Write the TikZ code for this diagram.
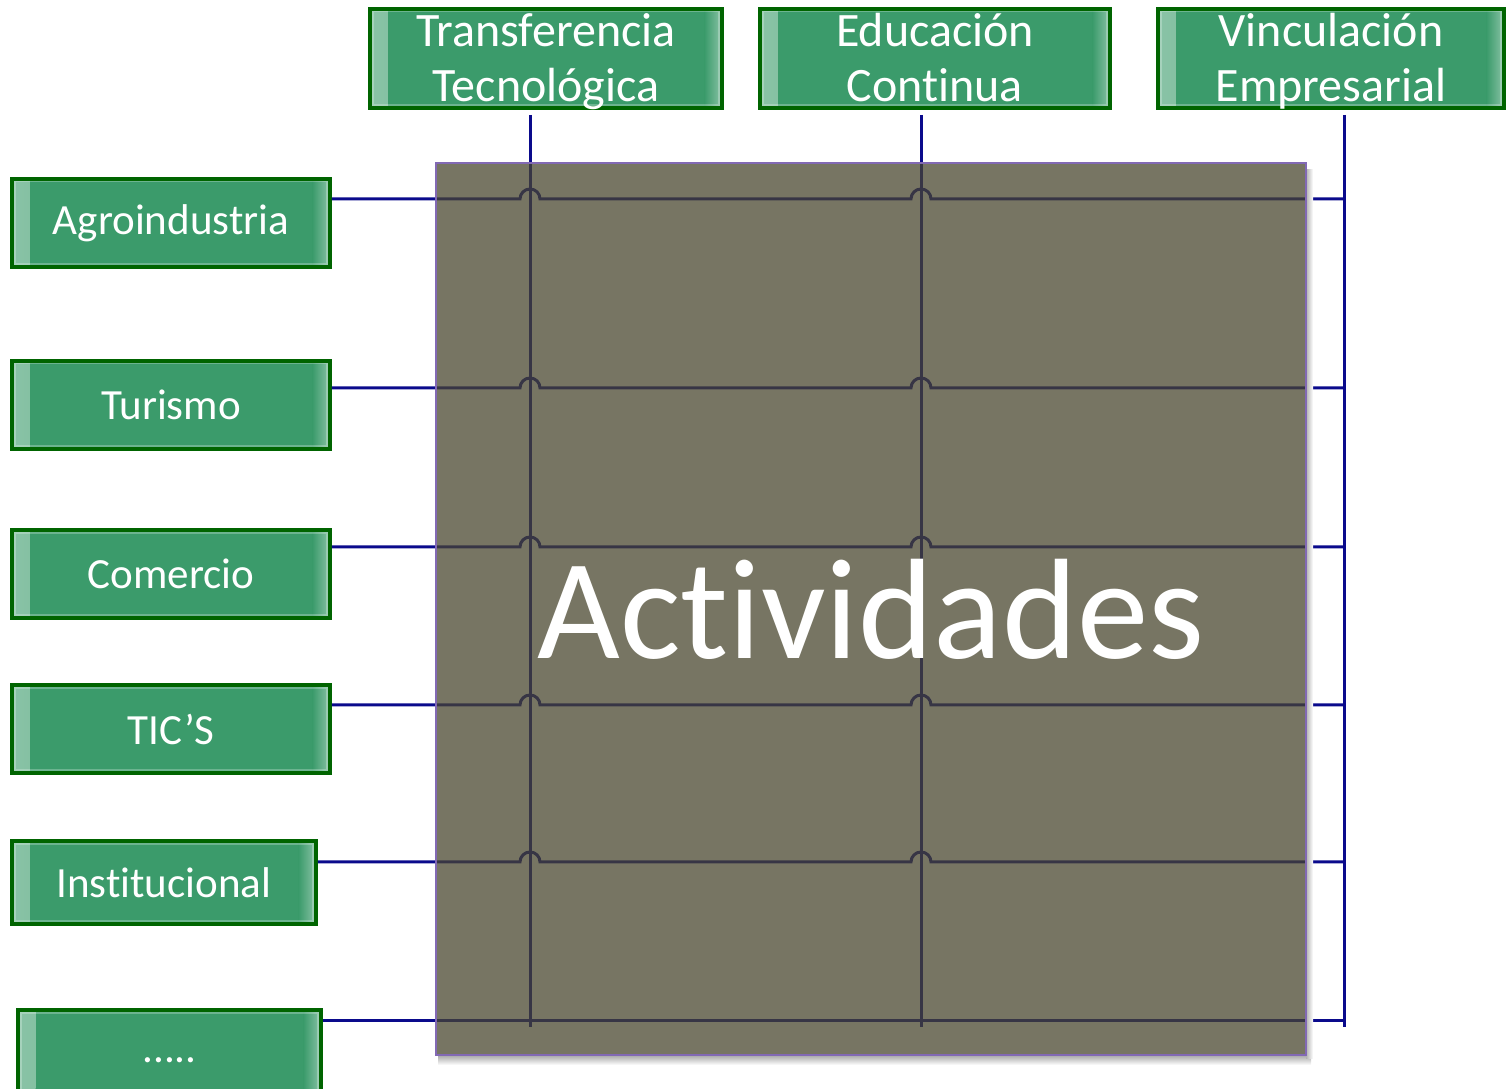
\documentclass[tikz,border=0pt]{standalone}
\usepackage{fontspec}
\setmainfont{Carlito}[Ligatures=NoCommon]

\definecolor{areagreen}{RGB}{59,155,107}
\definecolor{areaborder}{RGB}{0,100,0}
\definecolor{linknavy}{RGB}{10,10,140}
\definecolor{actfill}{RGB}{72,69,45}
\definecolor{actborder}{RGB}{130,105,180}

% cajas de dos lineas, todas con la misma altura de texto
\newcommand\twolines[2]{\vrule width 0pt height 21.6pt\smash{#1}\\\smash{#2}\vrule width 0pt depth 3.4pt}

\tikzset{
  area/.style={draw=areaborder, line width=0.08cm, fill=areagreen, text=white,
    align=center, inner sep=0pt,
    path picture={
      \shade[left color=white!40!areagreen, right color=areagreen]
        (path picture bounding box.south west) rectangle ([xshift=0.35cm]path picture bounding box.north west);
      \shade[left color=areagreen, right color=white!40!areagreen]
        ([xshift=-0.35cm]path picture bounding box.south east) rectangle (path picture bounding box.north east);
      \draw[white, opacity=.25, line width=0.14cm]
        (path picture bounding box.south west) rectangle (path picture bounding box.north east);
    }},
  toparea/.style={area, minimum height=1.98cm, font=\fontsize{27.3}{31.3}\selectfont},
  sidearea/.style={area, minimum width=6.36cm, minimum height=1.76cm, font=\fontsize{24.5}{28}\selectfont},
  link/.style={draw=linknavy, line width=0.06cm},
}

\begin{document}
\begin{tikzpicture}[x=0.02cm, y=0.02cm]
\useasboundingbox (0,0) rectangle (1506,1088);

% ejes
\node (transf) [toparea, minimum width=7.04cm] at (546,1029.5) {\twolines{Transferencia}{Tecnológica}};
\node (educ) [toparea, minimum width=7.0cm] at (935,1029.5) {\twolines{Educación}{Continua}};
\node (vinc) [toparea, minimum width=6.92cm] at (1331,1029.5) {\twolines{Vinculación}{Empresarial}};

% sectores
\node (agro) [sidearea] at (171,865) {Agroindustria};
\node (turismo) [sidearea] at (171,683) {Turismo};
\node (comercio) [sidearea] at (171,514) {Comercio};
\node (tics) [sidearea] at (171,359) {TIC’S};
\node (inst) [sidearea, minimum width=6.08cm, minimum height=1.66cm] at (164,205.5) {Institucional};
\node (otros) [sidearea, minimum width=6.06cm, minimum height=2.0cm] at (169.5,28) {.....};

% columnas
\coordinate (c1) at (530,973);
\coordinate (c2) at (921,973);
\coordinate (c3) at (1344,973);
\coordinate (c1b) at (530,61);
\coordinate (c2b) at (921,61);
\coordinate (c3b) at (1344,61);
\draw [link] (c1) -- (c1b);
\draw [link] (c2) -- (c2b);
\draw [link] (c3) -- (c3b);

% filas
\coordinate (f1) at (0,889);
\coordinate (f2) at (0,700);
\coordinate (f3) at (0,541);
\coordinate (f4) at (0,383);
\coordinate (f5) at (0,226);
\coordinate (f6) at (0,68);
\foreach \s/\f in {agro/f1, turismo/f2, comercio/f3, tics/f4, inst/f5} {
  \draw [link] (\s.east |- \f) -- ([xshift=-0.2cm]c1 |- \f)
    arc [start angle=180, end angle=0, radius=0.2cm] -- ([xshift=-0.2cm]c2 |- \f)
    arc [start angle=180, end angle=0, radius=0.2cm] -- (c3 |- \f);
}
\draw [link] (otros.east |- f6) -- (c3 |- f6);

% tablero
\shade [top color=black!35, bottom color=white] (438,33) rectangle (1311,23);
\shade [left color=black!30, right color=white] (1306,30) rectangle (1313,918);
\node (act) [draw=actborder, line width=0.04cm, fill=actfill, fill opacity=.74, text opacity=1,
  minimum width=17.4cm, minimum height=17.84cm, inner sep=0pt, text=white,
  font=\fontsize{81.4}{90}\selectfont] at (871,479) {Actividades};
\end{tikzpicture}
\end{document}
